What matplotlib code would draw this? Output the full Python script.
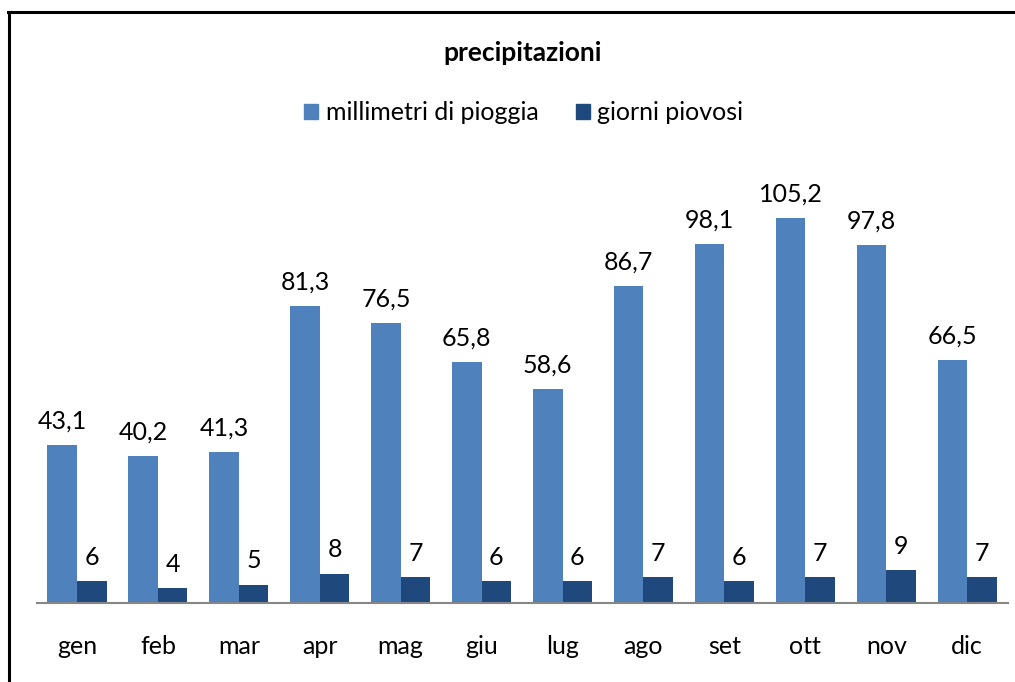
import matplotlib

matplotlib.use("Agg")
import matplotlib.pyplot as plt
import numpy as np
from matplotlib.lines import Line2D
from matplotlib.patches import Patch

plt.rcParams["font.family"] = ["Lato", "DejaVu Sans"]

months = ["gen", "feb", "mar", "apr", "mag", "giu", "lug", "ago", "set", "ott", "nov", "dic"]
mm_rain = [43.1, 40.2, 41.3, 81.3, 76.5, 65.8, 58.6, 86.7, 98.1, 105.2, 97.8, 66.5]
rain_days = [6, 4, 5, 8, 7, 6, 6, 7, 6, 7, 9, 7]

BLUE, NAVY = "#4f81bd", "#1f497d"
FS = 18

fig = plt.figure(figsize=(10.15, 6.82), dpi=100)
ax = fig.add_axes([0.036, 0.1158, 0.9567, 0.6437])

x = np.arange(len(months))
w = 0.365
b1 = ax.bar(x - w / 2, mm_rain, width=w, color=BLUE)
b2 = ax.bar(x + w / 2, rain_days, width=w, color=NAVY)

for rect, v in zip(b1, mm_rain):
    ax.annotate(f"{v:.1f}".replace(".", ","), (rect.get_x() + rect.get_width() / 2, v),
                xytext=(0, 9), textcoords="offset points", ha="center", va="bottom", fontsize=FS)
for rect, v in zip(b2, rain_days):
    ax.annotate(str(v), (rect.get_x() + rect.get_width() / 2, v),
                xytext=(0, 9), textcoords="offset points", ha="center", va="bottom", fontsize=FS)

ax.set_xlim(-0.5, len(months) - 0.5)
ax.set_ylim(0, 120)
ax.set_xticks(x)
ax.set_xticklabels(months, fontsize=FS)
ax.tick_params(axis="x", length=0, pad=23)
ax.set_yticks([])
for side in ("left", "right", "top"):
    ax.spines[side].set_visible(False)
ax.spines["bottom"].set_color("#868686")
ax.spines["bottom"].set_linewidth(1.5)

fig.text(0.515, 0.923, "precipitazioni", ha="center", va="center", fontsize=19, fontweight="bold")
handles = [Patch(color=BLUE, label="millimetri di pioggia"), Patch(color=NAVY, label="giorni piovosi")]
fig.legend(handles=handles, loc="center", bbox_to_anchor=(0.516, 0.835), ncol=2, frameon=False,
           fontsize=FS, handlelength=0.55, handleheight=0.55, handletextpad=0.3, columnspacing=1.5)

# chart frame (only top and left edges fall inside the picture)
fig.add_artist(Line2D([8.5 / 1015, 8.5 / 1015], [0, 1 - 12 / 682], color="black", lw=2.2))
fig.add_artist(Line2D([8 / 1015, 1], [1 - 12 / 682, 1 - 12 / 682], color="black", lw=2.2))

fig.savefig("out.png", dpi=100)
